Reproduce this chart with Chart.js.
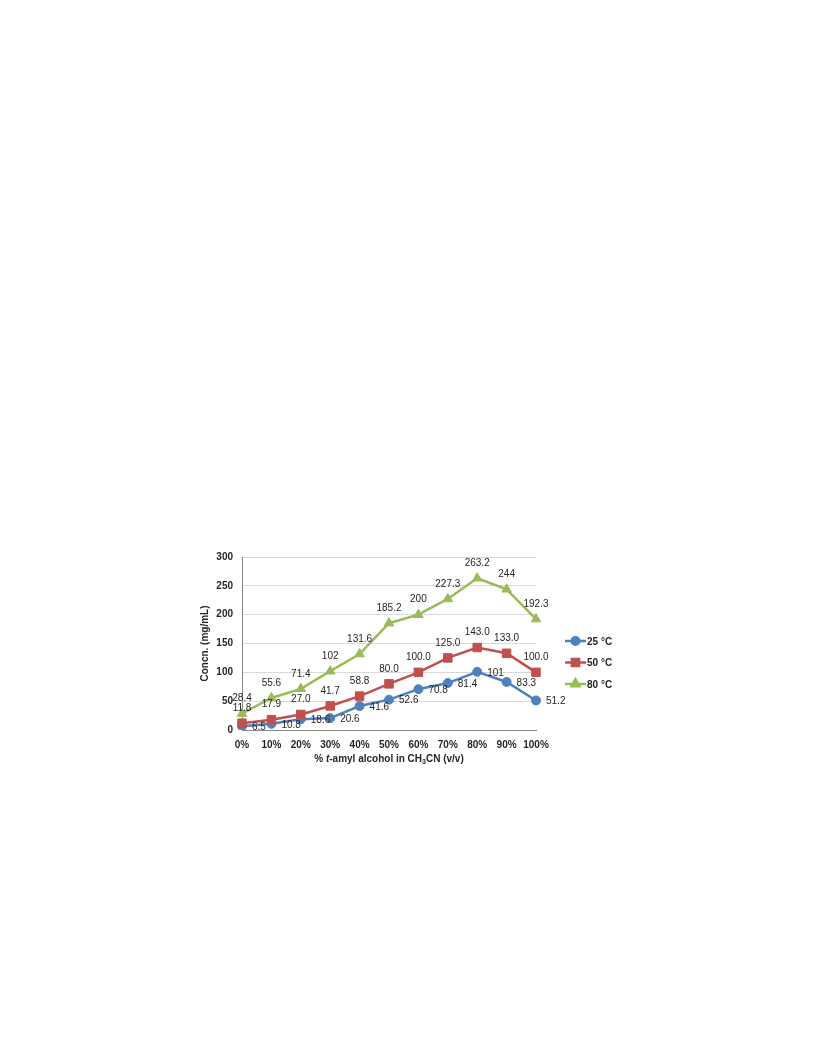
<!DOCTYPE html>
<html>
<head>
<meta charset="utf-8">
<script src="https://cdn.jsdelivr.net/npm/chart.js@4.4.1/dist/chart.umd.min.js"></script>
<style>
  html, body { margin: 0; padding: 0; background: #fff; }
  #wrap { position: relative; width: 816px; height: 1056px; }
</style>
</head>
<body>
<div id="wrap"><canvas id="concChart" width="816" height="1056"></canvas></div>
<script>
// chart data
const categories = ['0%', '10%', '20%', '30%', '40%', '50%', '60%', '70%', '80%', '90%', '100%'];
const seriesNames = ['25 \u00B0C', '50 \u00B0C', '80 \u00B0C'];
const conc25 = [6.5, 10.8, 18.6, 20.6, 41.6, 52.6, 70.8, 81.4, 101, 83.3, 51.2];
const conc50 = [11.8, 17.9, 27.0, 41.7, 58.8, 80.0, 100.0, 125.0, 143.0, 133.0, 100.0];
const conc80 = [28.4, 55.6, 71.4, 102, 131.6, 185.2, 200, 227.3, 263.2, 244, 192.3];
const yTicks = [0, 50, 100, 150, 200, 250, 300];

const FONT = "'Liberation Sans', Arial, sans-serif";
const TEXT = '#262626';

const colors = ['#4F81BD', '#C0504D', '#9BBB59'];
const markers = ['circle', 'rect', 'triangle'];
const markerSize = [4.5, 6, 5.5];
// Where each series puts its value labels, and how it formats them
const labelSide = ['right', 'above', 'above'];
const labelFormat = [v => String(v), v => v.toFixed(1), v => String(v)];

function makeSeries(i, values) {
    return {
        label: seriesNames[i],
        data: values,
        borderColor: colors[i],
        backgroundColor: colors[i],
        borderWidth: 2.5,
        pointStyle: markers[i],
        pointRadius: markerSize[i],
        pointHoverRadius: markerSize[i],
        pointBorderWidth: 1,
        pointBackgroundColor: colors[i],
        pointBorderColor: colors[i],
        tension: 0,
        order: 3 - i
    };
}

// Value labels next to every point
const valueLabels = {
    id: 'valueLabels',
    afterDatasetsDraw(chart) {
        const ctx = chart.ctx;
        ctx.save();
        ctx.font = '10px ' + FONT;
        ctx.fillStyle = TEXT;
        chart.data.datasets.forEach((ds, i) => {
            const meta = chart.getDatasetMeta(i);
            meta.data.forEach((pt, j) => {
                const txt = labelFormat[i](ds.data[j]);
                if (labelSide[i] === 'right') {
                    ctx.textAlign = 'left';
                    ctx.textBaseline = 'middle';
                    ctx.fillText(txt, pt.x + 10, pt.y + 1);
                } else {
                    ctx.textAlign = 'center';
                    ctx.textBaseline = 'middle';
                    ctx.fillText(txt, pt.x, pt.y - 15);
                }
            });
        });
        ctx.restore();
    }
};

// Legend on the right: short line with the marker in the middle
const sideLegend = {
    id: 'sideLegend',
    afterDraw(chart) {
        const ctx = chart.ctx;
        const area = chart.chartArea;
        ctx.save();
        chart.data.datasets.forEach((ds, i) => {
            const x0 = area.right + 29;
            const y = area.top + 84 + i * 21.5;
            ctx.strokeStyle = ds.borderColor;
            ctx.lineWidth = 2.5;
            ctx.beginPath();
            ctx.moveTo(x0, y);
            ctx.lineTo(x0 + 21, y);
            ctx.stroke();
            ctx.fillStyle = ds.backgroundColor;
            Chart.helpers.drawPoint(ctx, {
                pointStyle: ds.pointStyle,
                radius: ds.pointRadius * 0.85,
                rotation: 0,
                borderWidth: 1
            }, x0 + 10.5, y);
            ctx.fillStyle = TEXT;
            ctx.font = 'bold 10px ' + FONT;
            ctx.textAlign = 'left';
            ctx.textBaseline = 'middle';
            ctx.fillText(ds.label, x0 + 22, y + 1);
        });
        ctx.restore();
    }
};

// x axis title with italic t and subscript 3
const xTitle = {
    id: 'xTitle',
    afterDraw(chart) {
        const ctx = chart.ctx;
        const area = chart.chartArea;
        const parts = [
            { t: '% ', f: 'bold 10px ' + FONT, dy: 0 },
            { t: 't', f: 'italic bold 10px ' + FONT, dy: 0 },
            { t: '-amyl alcohol in CH', f: 'bold 10px ' + FONT, dy: 0 },
            { t: '3', f: 'bold 7px ' + FONT, dy: 3 },
            { t: 'CN (v/v)', f: 'bold 10px ' + FONT, dy: 0 }
        ];
        ctx.save();
        let total = 0;
        parts.forEach(p => { ctx.font = p.f; p.w = ctx.measureText(p.t).width; total += p.w; });
        let x = (area.left + area.right) / 2 - total / 2;
        const y = area.bottom + 29;
        ctx.fillStyle = TEXT;
        ctx.textAlign = 'left';
        ctx.textBaseline = 'middle';
        parts.forEach(p => {
            ctx.font = p.f;
            ctx.fillText(p.t, x, y + p.dy);
            x += p.w;
        });
        ctx.restore();
    }
};

const ctx = document.getElementById('concChart').getContext('2d');
const concChart = new Chart(ctx, {
    type: 'line',
    data: {
        labels: categories,
        datasets: [makeSeries(0, conc25), makeSeries(1, conc50), makeSeries(2, conc80)]
    },
    options: {
        responsive: false,
        devicePixelRatio: 1,
        animation: false,
        layout: {
            padding: { left: 199, right: 280, top: 557, bottom: 286 }
        },
        plugins: {
            legend: { display: false },
            tooltip: { enabled: false }
        },
        scales: {
            x: {
                type: 'category',
                offset: false,
                afterFit(scale) { scale.height = 40; },
                grid: { display: false, drawTicks: false },
                border: { display: true, color: '#868686', width: 1 },
                ticks: {
                    padding: 9,
                    color: TEXT,
                    font: { family: FONT, size: 10, weight: 'bold' },
                    maxRotation: 0,
                    autoSkip: false
                }
            },
            y: {
                min: 0,
                max: 300,
                afterFit(scale) { scale.width = 43; },
                afterBuildTicks(scale) { scale.ticks = yTicks.map(v => ({ value: v })); },
                grid: { color: '#D9D9D9', lineWidth: 1, drawTicks: false },
                border: { display: true, color: '#868686', width: 1 },
                ticks: {
                    padding: 9,
                    color: TEXT,
                    font: { family: FONT, size: 10, weight: 'bold' }
                },
                title: {
                    display: true,
                    text: 'Concn. (mg/mL)',
                    color: TEXT,
                    font: { family: FONT, size: 10, weight: 'bold' },
                    padding: { top: 0, bottom: 0 }
                }
            }
        }
    },
    plugins: [valueLabels, sideLegend, xTitle]
});
</script>
</body>
</html>
